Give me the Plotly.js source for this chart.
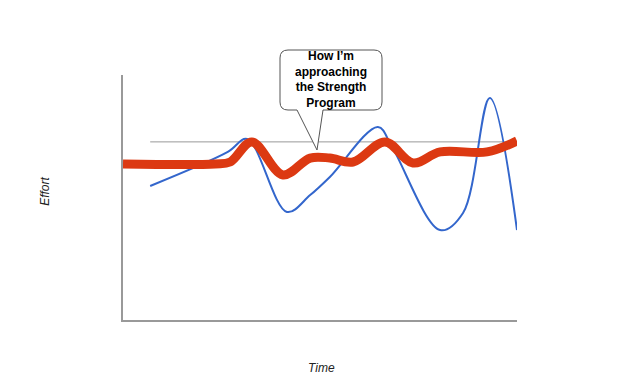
<!DOCTYPE html>
<html>
<head>
<meta charset="utf-8">
<script src="https://cdn.plot.ly/plotly-3.0.1.min.js"></script>
<style>html,body{margin:0;padding:0;background:#fff}#chart{width:640px;height:386px}</style>
</head>
<body>
<div id="chart"></div>
<script>
// Data (time 0..100, effort 0..100)
const targetX = [6.9, 100];
const targetY = [72.7, 72.7];

const actualX = [6.9, 26.6, 31.5, 41.6, 47.5, 52.5, 64.7, 68.3, 80.5, 86.3, 93.1, 100];
const actualY = [54.7, 68.6, 73.9, 44.1, 51.0, 58.4, 78.8, 70.6, 36.7, 43.7, 90.6, 36.7];

const strengthX = [0, 23.4, 27.2, 32.7, 40.6, 47.5, 52.5, 58.4, 66.5, 73.6, 80.5, 92.4, 100];
const strengthY = [63.7, 63.7, 64.5, 72.7, 59.2, 66.1, 66.1, 64.5, 72.7, 64.1, 68.6, 68.6, 73.1];

const calloutText = ['How I’m', 'approaching', 'the Strength', 'Program'];
const xTitle = 'Time';
const yTitle = 'Effort';

const traces = [
  {x: targetX, y: targetY, mode: 'lines', line: {color: '#999999', width: 1}, hoverinfo: 'skip'},
  {x: actualX, y: actualY, mode: 'lines', line: {color: '#3366cc', width: 2, shape: 'spline', smoothing: 1}, hoverinfo: 'skip'},
  {x: strengthX, y: strengthY, mode: 'lines', line: {color: '#dc3912', width: 9, shape: 'spline', smoothing: 1}, hoverinfo: 'skip'}
];

const layout = {
  width: 640, height: 386,
  margin: {l: 123, r: 123, t: 75, b: 66, pad: 0},
  paper_bgcolor: '#ffffff', plot_bgcolor: '#ffffff',
  showlegend: false,
  font: {family: 'Liberation Sans, Arial, sans-serif', color: '#222'},
  xaxis: {range: [0, 100], showgrid: false, zeroline: false, showticklabels: false, ticks: '',
          showline: true, linecolor: '#999999', linewidth: 2, fixedrange: true},
  yaxis: {range: [0, 100], showgrid: false, zeroline: false, showticklabels: false, ticks: '',
          showline: true, linecolor: '#999999', linewidth: 2, fixedrange: true},
  shapes: [{
    type: 'path', xref: 'paper', yref: 'paper', xsizemode: 'pixel', ysizemode: 'pixel',
    xanchor: 0, yanchor: 0, layer: 'above',
    path: 'M 165,270 L 251,270 Q 259,270 259,262 L 259,218 Q 259,210 251,210 L 200,210 L 194,170 L 174,210 L 165,210 Q 157,210 157,218 L 157,262 Q 157,270 165,270 Z',
    line: {color: '#555555', width: 1}, fillcolor: '#ffffff'
  }],
  annotations: [
    {text: '<b>' + calloutText.join('<br>') + '</b>', xref: 'paper', yref: 'paper', x: 0.528, y: 0.98,
     xanchor: 'center', yanchor: 'middle', showarrow: false, font: {size: 12, color: '#000'}},
    {text: '<i>' + xTitle + '</i>', xref: 'paper', yref: 'paper', x: 0.505, y: -0.196,
     xanchor: 'center', yanchor: 'middle', showarrow: false, font: {size: 12, color: '#222'}},
    {text: '<i>' + yTitle + '</i>', xref: 'paper', yref: 'paper', x: -0.198, y: 0.527, textangle: -90,
     xanchor: 'center', yanchor: 'middle', showarrow: false, font: {size: 12, color: '#222'}}
  ]
};

Plotly.newPlot('chart', traces, layout, {staticPlot: true, displayModeBar: false});
</script>
</body>
</html>
